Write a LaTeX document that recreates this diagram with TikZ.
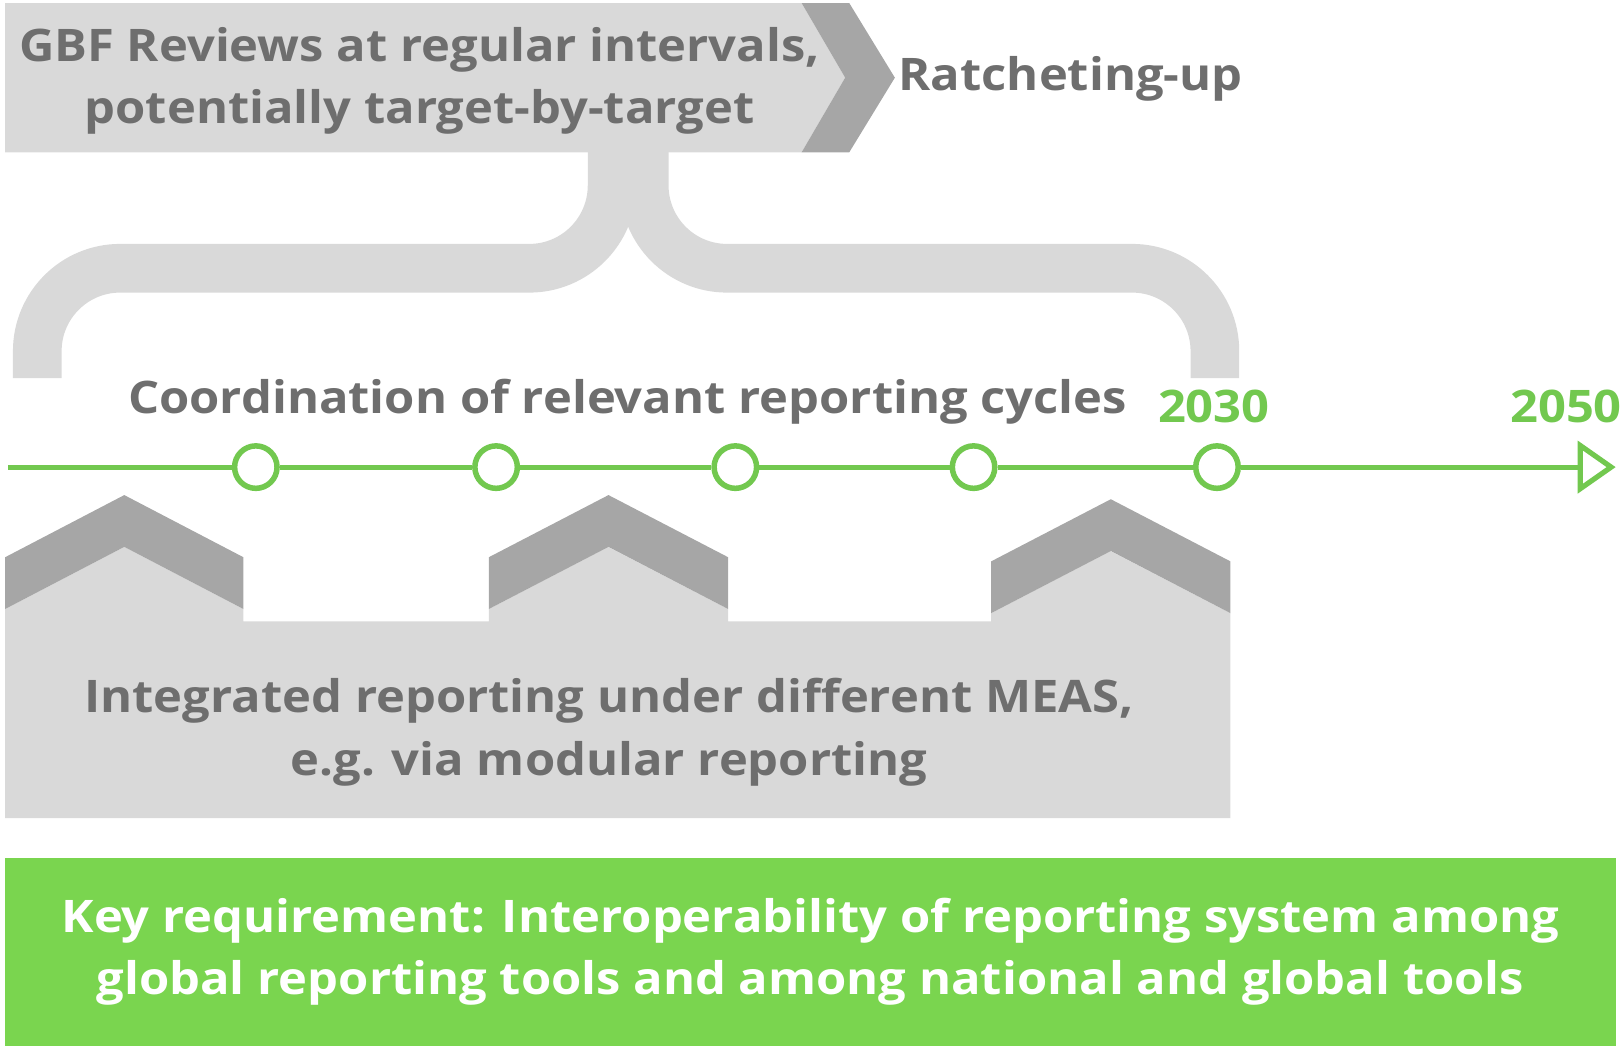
\documentclass[tikz,border=0pt]{standalone}
\usepackage{fontspec}
\setmainfont{Open Sans}[FakeStretch=1.09]
\usetikzlibrary{arrows.meta}
\definecolor{panelgrey}{HTML}{D9D9D9}
\definecolor{roofgrey}{HTML}{A6A6A6}
\definecolor{textgrey}{HTML}{6E6E6E}
\definecolor{tlgreen}{HTML}{72C84F}
\definecolor{keygreen}{HTML}{7AD54F}
\begin{document}
\begin{tikzpicture}[x=0.3pt,y={(0pt,-0.3pt)},font=\fontsize{13}{18}\selectfont\bfseries,
  lbl/.style={text=textgrey,inner sep=0pt,align=center},
  year/.style={text=tlgreen,inner sep=0pt},
  tick/.style={circle,draw=tlgreen,fill=white,line width=1.6pt,minimum size=12.3pt,inner sep=0pt},
  tline/.style={draw=tlgreen,line width=1.5pt},
  brace/.style={draw=panelgrey,line width=14.1pt,rounded corners=24pt}]

\useasboundingbox (0,0) rectangle (1568,1012);

% brace from the reviews banner down to the cycles
\path [brace] (36,365) |- (591,259) -- (591,140);
\path [brace] (622,140) |- (1173,259) -- (1173,365);

% reviews banner
\fill [panelgrey] (5,3) -- (774,3) -- (816,75) -- (774,147) -- (5,147) -- cycle;
\fill [roofgrey] (774,3) -- (820,3) -- (864,75) -- (820,147) -- (774,147) -- (816,75) -- cycle;
\node (review) [lbl] at (405,78) {GBF Reviews at regular intervals,\\potentially target-by-target};
\node (ratchet) [lbl, anchor=west] at (867,76) {Ratcheting-up};

% reporting block with three roofs
\fill [panelgrey] (5,588) -- (120,528) -- (235,588) -- (235,600) -- (472,600) -- (472,588)
  -- (587,528) -- (703,588) -- (703,600) -- (957,600) -- (957,592) -- (1072,532)
  -- (1188,592) -- (1188,790) -- (5,790) -- cycle;
\foreach \xa/\xb/\ys in {5/235/538, 472/703/538, 957/1188/542}
  \fill [roofgrey] (\xa,\ys) -- ({(\xa+\xb)/2},\ys-60) -- (\xb,\ys) -- (\xb,\ys+50)
    -- ({(\xa+\xb)/2},\ys-10) -- (\xa,\ys+50) -- cycle;
\node (integrated) [lbl] at (588,707) {Integrated reporting under different MEAS,\\e.g. via modular reporting};

% timeline
\coordinate (tstart) at (8,451);
\coordinate (tend) at (1560,451);
\foreach \i/\x in {1/247, 2/479, 3/710, 4/940, 5/1175}
  \node (c\i) [tick] at (\x,451) {};
\path [tline] (tstart) -- (c1) (c1) -- (c2) (c2) -- (c3) (c3) -- (c4) (c4) -- (c5);
\path [tline, -{Triangle[open,length=11pt,width=15pt]}] (c5) -- (tend);

\node (coord) [lbl] at (606,388) {Coordination of relevant reporting cycles};
\node (y2030) [year] at (1172,392) {2030};
\node (y2050) [year] at (1512,392) {2050};

% key requirement
\node (key) [fill=keygreen, text=white, align=center, minimum width=466.5pt, minimum height=54.6pt,
  inner sep=0pt] at (782.5,919) {Key requirement: Interoperability of reporting system among\\global reporting tools and among national and global tools};

\end{tikzpicture}
\end{document}
